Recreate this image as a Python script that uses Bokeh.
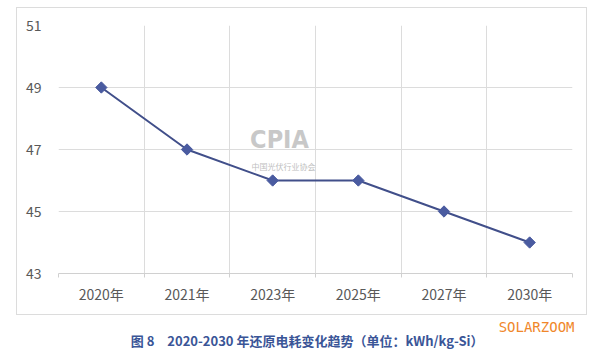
import math
from bokeh.plotting import figure
from bokeh.layouts import column
from bokeh.models import Range1d, FixedTicker, Label, ColumnDataSource
from bokeh.embed import file_html
from bokeh.resources import INLINE

# ---- data ----
years = ["2020年", "2021年", "2023年", "2025年", "2027年", "2030年"]
power = [49, 47, 46, 46, 45, 44]
y_ticks = [43, 45, 47, 49, 51]
caption = "图 8　2020-2030 年还原电耗变化趋势（单位：kWh/kg-Si）"
brand = "SOLARZOOM"

centers = [i + 0.5 for i in range(len(years))]
bounds = list(range(len(years) + 1))
src = ColumnDataSource(dict(x=centers, y=power))

p = figure(width=571, height=308, output_backend="svg", toolbar_location=None,
           x_range=Range1d(0, len(years)), y_range=Range1d(43, 51),
           min_border_left=41, min_border_right=16, min_border_top=17,
           min_border_bottom=43)
p.margin = (7, 0, 0, 16)
p.styles = {"border": "1px solid #dcdcdc", "box-sizing": "border-box"}
p.background_fill_color = "white"
p.border_fill_color = "white"
p.outline_line_color = None

# grid
p.xgrid.ticker = FixedTicker(ticks=bounds)
p.ygrid.ticker = FixedTicker(ticks=y_ticks)
p.xgrid.grid_line_color = "#dcdcdc"
p.ygrid.grid_line_color = "#dcdcdc"

# x axis
p.xaxis.ticker = FixedTicker(ticks=centers, minor_ticks=bounds)
p.xaxis.major_label_overrides = {c: y for c, y in zip(centers, years)}
p.xaxis.axis_line_color = "#d0d0d0"
p.xaxis.major_tick_line_color = None
p.xaxis.minor_tick_line_color = "#d0d0d0"
p.xaxis.minor_tick_in = 0
p.xaxis.minor_tick_out = 4
p.xaxis.major_label_standoff = 4
p.xaxis.major_label_text_font = "Noto Sans CJK SC"
p.xaxis.major_label_text_font_size = "14px"
p.xaxis.major_label_text_color = "#595959"

# y axis
p.yaxis.ticker = FixedTicker(ticks=y_ticks)
p.yaxis.axis_line_color = None
p.yaxis.major_tick_line_color = None
p.yaxis.minor_tick_line_color = None
p.yaxis.major_label_standoff = 11
p.yaxis.major_label_text_font = "Noto Sans CJK SC"
p.yaxis.major_label_text_font_size = "14px"
p.yaxis.major_label_text_color = "#595959"

# watermark
p.add_layout(Label(x=261, y=130, x_units="canvas", y_units="canvas", text="CPIA",
                   text_font="DejaVu Sans Condensed", text_font_style="bold",
                   text_font_size="25px", text_color="#c8c8c8", text_align="center",
                   text_baseline="middle"))
p.add_layout(Label(x=265, y=157, x_units="canvas", y_units="canvas", text="中国光伏行业协会",
                   text_font="Noto Sans CJK SC", text_font_size="8px",
                   text_color="#c0c0c0", text_align="center", text_baseline="middle"))

# data
p.line("x", "y", source=src, line_color="#414f8a", line_width=2)
p.scatter("x", "y", source=src, marker="square", angle=math.pi / 4, size=8,
          color="#4a5ba0")

# caption strip
q = figure(width=590, height=40, output_backend="svg", toolbar_location=None,
           x_range=Range1d(0, 590), y_range=Range1d(40, 0),
           x_axis_location=None, y_axis_location=None, min_border=0)
q.grid.visible = False
q.outline_line_color = None
q.background_fill_color = "white"
q.border_fill_color = "white"
q.add_layout(Label(x=294, y=25, text=caption,
                   text_font="Noto Sans CJK SC", text_font_style="bold",
                   text_font_size="13px", text_color="#3a5597", text_align="center",
                   text_baseline="middle"))
q.add_layout(Label(x=548, y=11, text=brand, text_font="DejaVu Sans Mono",
                   text_font_size="14px", text_color="#f0872a", text_align="center",
                   text_baseline="middle"))

layout = column(p, q, spacing=0)
open("out.html", "w").write(file_html(layout, INLINE))
